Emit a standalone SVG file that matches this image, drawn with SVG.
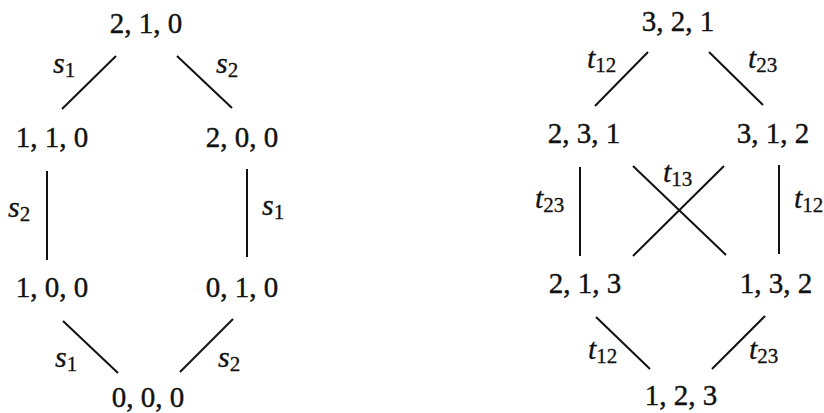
<svg xmlns="http://www.w3.org/2000/svg" width="824" height="413" viewBox="0 0 824 413">
<style>
.n{font-family:"Liberation Serif","DejaVu Serif",serif;font-size:29px;fill:#111;stroke:#111;stroke-width:0.4;text-anchor:middle}
.l{font-family:"Liberation Serif","DejaVu Serif",serif;font-size:30px;fill:#111;stroke:#111;stroke-width:0.3;font-style:italic}
.sub{font-style:normal;font-size:21px}
.e{stroke:#111;stroke-width:2;fill:none}
</style>
<rect width="824" height="413" fill="#fff"/>
<g id="connectors">
<line class="e" x1="116" y1="56" x2="62" y2="109"/>
<line class="e" x1="177" y1="56" x2="232" y2="108"/>
<line class="e" x1="47" y1="171" x2="47" y2="260"/>
<line class="e" x1="247" y1="169" x2="247" y2="257"/>
<line class="e" x1="63" y1="321" x2="118" y2="373"/>
<line class="e" x1="233" y1="319" x2="180" y2="372"/>
<line class="e" x1="648" y1="52" x2="595" y2="106"/>
<line class="e" x1="709" y1="52" x2="763" y2="105"/>
<line class="e" x1="580" y1="167" x2="580" y2="256"/>
<line class="e" x1="779" y1="165" x2="779" y2="254"/>
<line class="e" x1="633" y1="166" x2="726" y2="255"/>
<line class="e" x1="724" y1="166" x2="633" y2="256"/>
<line class="e" x1="596" y1="317" x2="650" y2="369"/>
<line class="e" x1="765" y1="316" x2="712" y2="369"/>
</g>
<g id="edge-labels">
<text class="l" x="53" y="73">s<tspan class="sub" dy="4">1</tspan></text>
<text class="l" x="216" y="73">s<tspan class="sub" dy="4">2</tspan></text>
<text class="l" x="8" y="217">s<tspan class="sub" dy="4">2</tspan></text>
<text class="l" x="262" y="215">s<tspan class="sub" dy="4">1</tspan></text>
<text class="l" x="55" y="367">s<tspan class="sub" dy="4">1</tspan></text>
<text class="l" x="218" y="367">s<tspan class="sub" dy="4">2</tspan></text>
<text class="l" x="587" y="68">t<tspan class="sub" dy="4">12</tspan></text>
<text class="l" x="748" y="68">t<tspan class="sub" dy="4">23</tspan></text>
<text class="l" x="663" y="182">t<tspan class="sub" dy="4">13</tspan></text>
<text class="l" x="535" y="208">t<tspan class="sub" dy="4">23</tspan></text>
<text class="l" x="794" y="208">t<tspan class="sub" dy="4">12</tspan></text>
<text class="l" x="588" y="359">t<tspan class="sub" dy="4">12</tspan></text>
<text class="l" x="749" y="359">t<tspan class="sub" dy="4">23</tspan></text>
</g>
<g id="n210"><text class="n" x="146" y="33">2, 1, 0</text></g>
<g id="n110"><text class="n" x="52" y="147">1, 1, 0</text></g>
<g id="n200"><text class="n" x="242" y="147">2, 0, 0</text></g>
<g id="n100"><text class="n" x="52" y="297">1, 0, 0</text></g>
<g id="n010"><text class="n" x="242" y="297">0, 1, 0</text></g>
<g id="n000"><text class="n" x="148" y="407">0, 0, 0</text></g>
<g id="n321"><text class="n" x="678" y="31">3, 2, 1</text></g>
<g id="n231"><text class="n" x="584" y="143">2, 3, 1</text></g>
<g id="n312"><text class="n" x="773" y="143">3, 1, 2</text></g>
<g id="n213"><text class="n" x="585" y="293">2, 1, 3</text></g>
<g id="n132"><text class="n" x="776" y="293">1, 3, 2</text></g>
<g id="n123"><text class="n" x="681" y="405">1, 2, 3</text></g>
</svg>
